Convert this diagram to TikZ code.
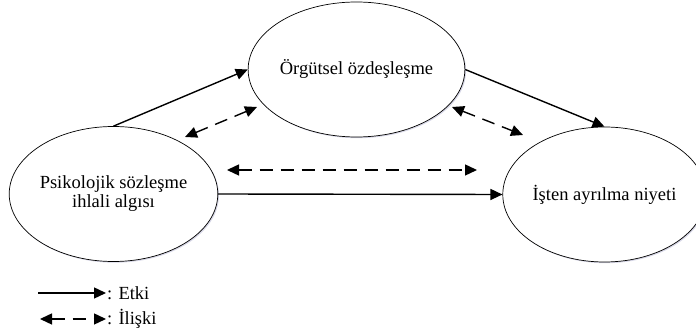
\documentclass[tikz,border=0pt]{standalone}
\usepackage{fontspec}
\setmainfont{Liberation Serif}
\usetikzlibrary{shapes.geometric,arrows.meta,shadows}
\begin{document}
\begin{tikzpicture}[x=1pt,y=-1pt,
  concept/.style={ellipse,draw=black,line width=0.7pt,fill=white,inner sep=0pt,
     minimum width=203pt,minimum height=135pt,align=center,
     font=\fontsize{18.5}{19}\selectfont,
     drop shadow={shadow xshift=1.2pt,shadow yshift=-1.2pt,opacity=0.25,fill=blue!25!gray}},
  effect/.style={line width=1.4pt,-{Triangle[length=12pt,width=11pt]}},
  relation/.style={line width=1.4pt,dash pattern=on 13pt off 8pt,
     {Triangle[length=12pt,width=11pt]}-{Triangle[length=12pt,width=11pt]}},
  legendtext/.style={anchor=west,inner sep=1pt,font=\fontsize{18.5}{19}\selectfont}]
\useasboundingbox (0,0) rectangle (696,336);
\fill[white] (0,0) rectangle (696,336);

\node[concept] (T) at (356.5,69.5) {Örgütsel özdeşleşme};
\node[concept] (L) at (113.5,194) {Psikolojik sözleşme\\ihlali algısı};
\node[concept] (R) at (604.5,194.5) {İşten ayrılma niyeti};

\coordinate (d1a) at (185,137);
\coordinate (d1b) at (257,107);
\coordinate (d2a) at (452,107);
\coordinate (d2b) at (523,135);
\coordinate (d3a) at (227,170);
\coordinate (d3b) at (477,170);

\draw[effect] (L.north) -- (T.west);
\draw[effect] (T.east) -- (R.north);
\draw[effect] (L.east) -- (R.west);
\draw[relation] (d1a) -- (d1b);
\draw[relation] (d2a) -- (d2b);
\draw[relation] (d3a) -- (d3b);

\coordinate (e1) at (38,293);
\coordinate (e2) at (106,293);
\coordinate (r1) at (40,319);
\coordinate (r2) at (106,319);
\draw[effect] (e1) -- (e2);
\draw[relation] (r1) -- (r2);
\node[legendtext] (etki) at (e2) {: Etki};
\node[legendtext] (iliski) at (r2) {: İlişki};
\end{tikzpicture}
\end{document}
